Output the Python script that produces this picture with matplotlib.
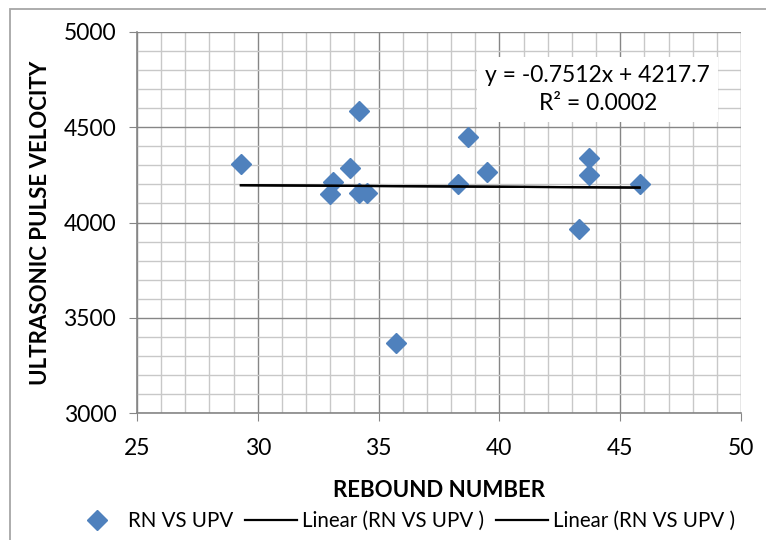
import matplotlib.pyplot as plt
from matplotlib.ticker import MultipleLocator
from matplotlib.patches import Rectangle

plt.rcParams['font.family'] = ['Lato', 'DejaVu Sans']

# rebound number vs ultrasonic pulse velocity
rn = [29.3, 34.2, 33.8, 33.1, 33.0, 34.2, 34.5, 35.7, 38.3, 38.7, 39.5, 43.3, 43.7, 43.7, 45.8]
upv = [4305, 4585, 4285, 4210, 4150, 4155, 4155, 3370, 4200, 4450, 4265, 3965, 4340, 4250, 4200]

# trendline from the chart
slope = -0.7512
intercept = 4217.7
r2_text = 'R² = 0.0002'

blue = '#4F81BD'
grey = '#868686'

fig = plt.figure(figsize=(7.66, 5.4), dpi=100)
ax = fig.add_axes([137/766, 1-413/540, 604/766, 381/540])

ax.set_xlim(25, 50)
ax.set_ylim(3000, 5000)
ax.xaxis.set_major_locator(MultipleLocator(5))
ax.xaxis.set_minor_locator(MultipleLocator(1))
ax.yaxis.set_major_locator(MultipleLocator(500))
ax.yaxis.set_minor_locator(MultipleLocator(100))

ax.grid(which='minor', color='#C8C8C8', linewidth=1)
ax.grid(which='major', color=grey, linewidth=1)
ax.set_axisbelow(True)
for s in ['top', 'right']:
    ax.spines[s].set_visible(False)
for s in ['left', 'bottom']:
    ax.spines[s].set_color(grey)
    ax.spines[s].set_linewidth(1.2)

ax.tick_params(which='major', length=6, color=grey, labelsize=16.5)
ax.tick_params(axis='x', which='major', pad=12)
ax.tick_params(axis='y', which='major', pad=9)
ax.tick_params(which='minor', length=0)

ax.plot(rn, upv, 'D', color=blue, markersize=10, linestyle='none', label='RN VS UPV', zorder=3)

xs = [min(rn), max(rn)]
ys = [slope * v + intercept for v in xs]
ax.plot(xs, ys, '-', color='black', linewidth=1.6, label='Linear (RN VS UPV )', zorder=4)
ax.plot(xs, ys, '-', color='black', linewidth=1.6, label='Linear (RN VS UPV )', zorder=4)

eq = 'y = %.4fx + %.1f\n%s' % (slope, intercept, r2_text)
ax.text(0.763, 0.849, eq, transform=ax.transAxes, ha='center', va='center', fontsize=16.5,
        linespacing=1.4, bbox=dict(facecolor='white', edgecolor='none', pad=6), zorder=5)

ax.set_xlabel('REBOUND NUMBER', fontsize=16, fontweight='bold', labelpad=15)
ax.set_ylabel('ULTRASONIC PULSE VELOCITY', fontsize=16, fontweight='bold', labelpad=9)

fig.legend(*ax.get_legend_handles_labels(), loc='center', bbox_to_anchor=(0.526, 1-521/540),
           ncol=3, frameon=False, fontsize=14.8, handlelength=2.5, handletextpad=0.25,
           columnspacing=0.6, borderpad=0)

fig.patches.append(Rectangle((10/766, -0.1), 1.2, 1-9/540+0.1, transform=fig.transFigure,
                             fill=False, edgecolor='#A6A6A6', linewidth=1.3))

fig.savefig('out.png', dpi=100)
